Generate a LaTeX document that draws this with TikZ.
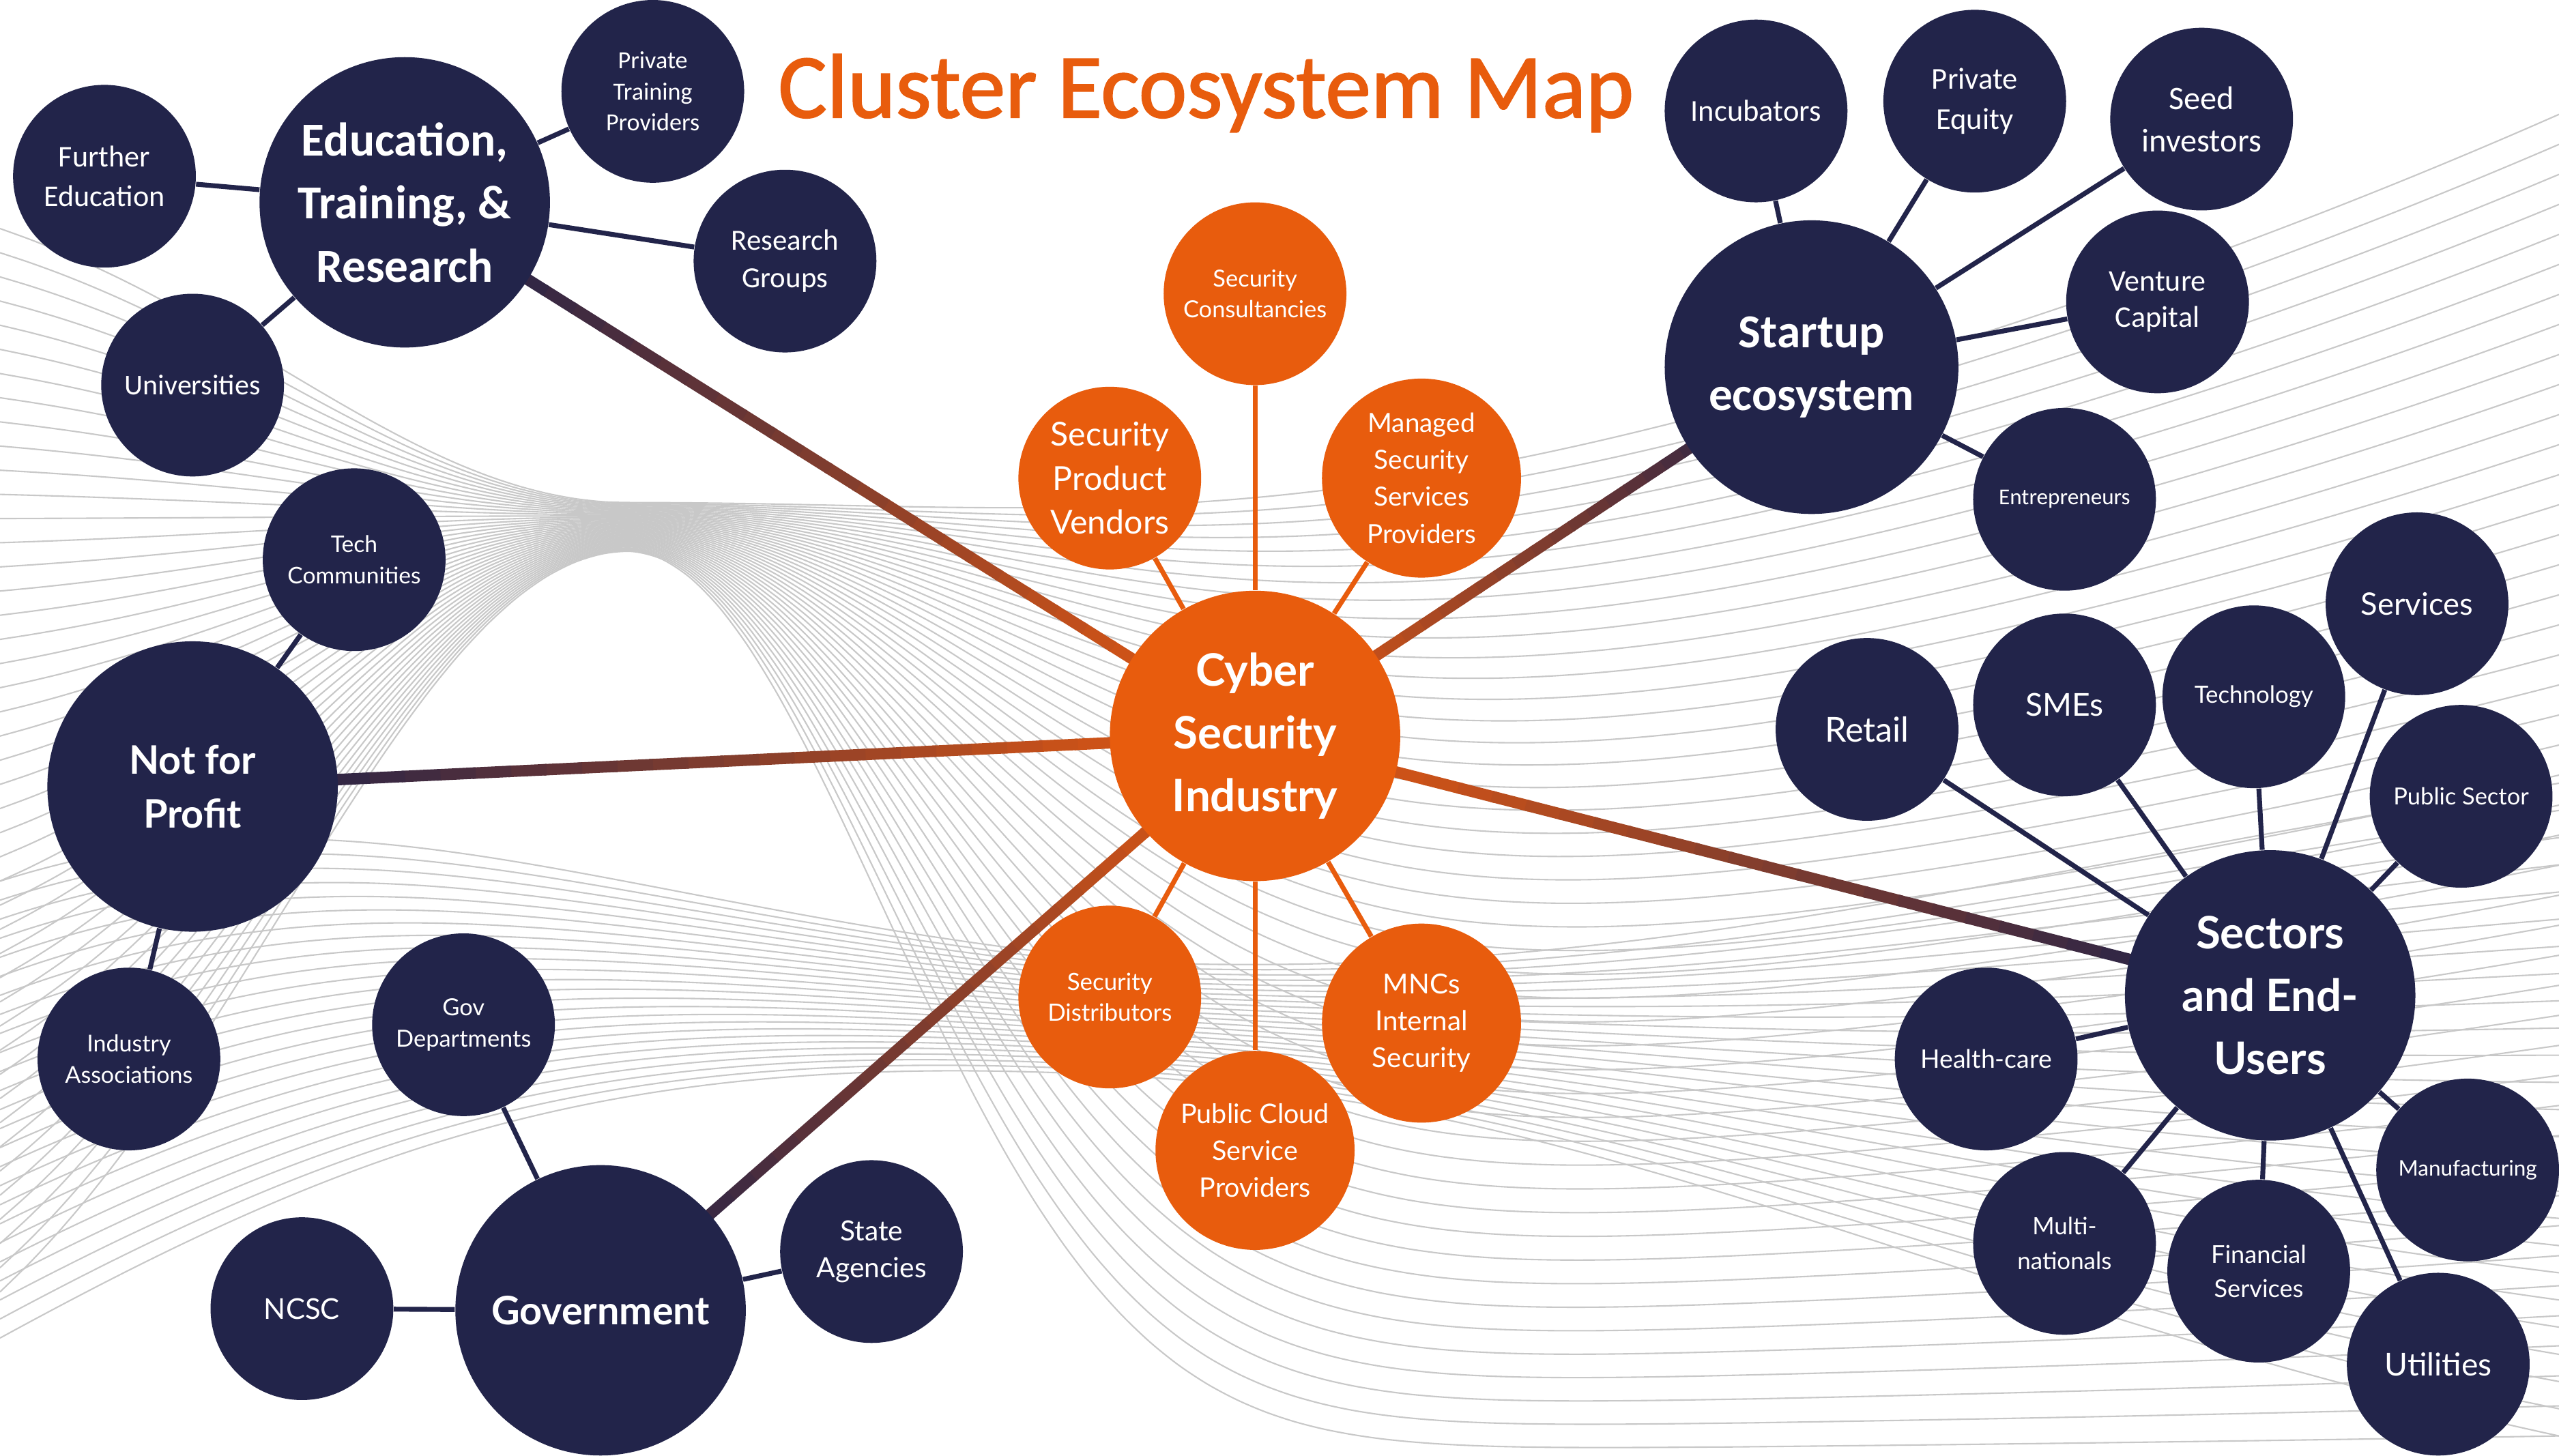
\documentclass[tikz,border=0pt]{standalone}
\usepackage{fontspec}
\setmainfont{Lato}
\newfontfamily\calfont{Carlito}
\newfontfamily\titlefont[FakeBold=1.5]{Carlito}
\usetikzlibrary{positioning}
\usetikzlibrary{calc}

\definecolor{navy}{HTML}{22244A}
\definecolor{flame}{HTML}{E85C0D}
\definecolor{rust}{HTML}{CC5218}
\definecolor{plum}{HTML}{302645}
\definecolor{wavegray}{HTML}{C8C8C8}

\newcommand\setfs[2]{\fontsize{#1}{#2}\selectfont}

\pgfdeclarelayer{waves}
\pgfdeclarelayer{links}
\pgfsetlayers{waves,links,main}

\begin{document}
\begin{tikzpicture}[x=0.02cm, y=-0.02cm,
    hub/.style={circle, fill=navy, text=white, minimum size=3.56cm, inner sep=0pt, align=center},
    leaf/.style={circle, fill=navy, text=white, minimum size=2.24cm, inner sep=0pt, align=center},
    core/.style={circle, fill=flame, text=white, minimum size=3.56cm, inner sep=0pt, align=center},
    petal/.style={circle, fill=flame, text=white, minimum size=2.24cm, inner sep=0pt, align=center},
    twig/.style={draw=navy, line width=1.7pt},
    stem/.style={draw=flame, line width=1.7pt},
    trunk/.style={line width=4pt},
    wave/.style={draw=wavegray, line width=0.5pt}]
    \useasboundingbox (0,0) rectangle (1568,892);

    % background waves
    \begin{pgfonlayer}{waves}
        \fill[white] (0,0) rectangle (1568,892);
        \clip (0,0) rectangle (1568,892);
        % bundle through the knot
        \foreach \i in {0,...,44}{
            \pgfmathsetmacro\t{\i/44}
            \pgfmathsetmacro\ky{308+30*\t}
            \pgfmathsetmacro\bl{100+800*\t}
            \pgfmathsetmacro\wl{300}
            \pgfmathsetmacro\bm{330+560*\t}
            \pgfmathsetmacro\br{70+810*\t}
            \pgfmathsetmacro\wr{420-200*\t}
            \draw[wave] plot[domain=0:1568, samples=90, smooth] (\x, {\x<385 ?
                \ky+(\bl-\ky)*(1-exp(-((385-\x)/\wl)*((385-\x)/\wl))) :
                \ky+(\bm+(\br-\bm)*((\x-385)/1183)*((\x-385)/1183)-\ky)*(1-exp(-((\x-385)/\wr)*((\x-385)/\wr)))});
        }
        % lower band
        \foreach \j in {0,...,24}{
            \pgfmathsetmacro\s{\j/24}
            \draw[wave] (0,540+280*\s) .. controls (220,470+230*\s) and (380,560+80*\s) .. (700,590+70*\s)
                .. controls (1000,600+80*\s) and (1200,540+260*\s) .. (1568,480+400*\s);
        }
    \end{pgfonlayer}

    \node[font=\titlefont\setfs{31.8}{36}, text=flame, anchor=base] (title) at (739,72) {Cluster Ecosystem Map};

    % core
    \node[core, font=\bfseries\setfs{15.6}{22}] (core) at (769,451) {Cyber\\Security\\Industry};
    \node[petal, font=\setfs{8.2}{10.8}] (consult) at (769,180) {Security\\Consultancies};
    \node[petal, font=\setfs{11.5}{15.4}] (vendors) at (680,293) {Security\\Product\\Vendors};
    \node[petal, minimum size=2.44cm, font=\setfs{9.2}{12.9}] (managed) at (871,293) {Managed\\Security\\Services\\Providers};
    \node[petal, font=\setfs{8.3}{10.8}] (distrib) at (680,611) {Security\\Distributors};
    \node[petal, minimum size=2.44cm, font=\setfs{9.4}{12.8}] (cloud) at (769,705) {Public Cloud\\Service\\Providers};
    \node[petal, minimum size=2.44cm, font=\setfs{9.6}{12.8}] (mncs) at (871,627) {MNCs\\Internal\\Security};

    % education
    \node[hub, font=\calfont\bfseries\setfs{16.5}{22}] (edu) at (248,124) {Education,\\Training, \&\\Research};
    \node[leaf, font=\calfont\setfs{10.5}{13.7}] (further) at (64,108) {Further\\Education};
    \node[leaf, font=\calfont\setfs{8.6}{10.8}] (privtrain) at (400,56) {Private\\Training\\Providers};
    \node[leaf, font=\calfont\setfs{10.2}{13}] (resgroups) at (481,160) {Research\\Groups};
    \node[leaf, font=\calfont\setfs{10}{13}] (unis) at (118,236) {Universities};

    % startups
    \node[hub, minimum size=3.6cm, font=\calfont\bfseries\setfs{16.5}{22}] (startup) at (1110,225) {Startup\\ecosystem};
    \node[leaf, font=\calfont\setfs{10.6}{13.7}] (incub) at (1076,68) {Incubators};
    \node[leaf, font=\calfont\setfs{10.6}{14.2}] (privequity) at (1210,62) {Private\\Equity};
    \node[leaf, font=\calfont\setfs{11.5}{14.8}] (seed) at (1349,73) {Seed\\investors};
    \node[leaf, font=\calfont\setfs{10.5}{12.5}] (venture) at (1322,185) {Venture\\Capital};
    \node[leaf, font=\calfont\setfs{7.9}{10}] (entre) at (1265,306) {Entrepreneurs};

    % not for profit
    \node[hub, font=\bfseries\setfs{13.7}{18.8}] (nfp) at (118,482) {Not for\\Profit};
    \node[leaf, font=\setfs{8}{10.8}] (techcom) at (217,343) {Tech\\Communities};
    \node[leaf, font=\setfs{8.1}{10.8}] (indassoc) at (79,649) {Industry\\Associations};

    % government
    \node[hub, font=\bfseries\setfs{13.7}{18.8}] (gov) at (368,803) {Government};
    \node[leaf, font=\setfs{10}{13}] (ncsc) at (185,802) {NCSC};
    \node[leaf, font=\setfs{8.2}{10.8}] (govdept) at (284,628) {Gov\\Departments};
    \node[leaf, font=\setfs{9.7}{13}] (stateag) at (534,767) {State\\Agencies};

    % sectors
    \node[hub, font=\bfseries\setfs{15.6}{21.9}] (sectors) at (1391,610) {Sectors\\and End-\\Users};
    \node[leaf, font=\setfs{12}{14}] (retail) at (1144,447) {Retail};
    \node[leaf, font=\setfs{11}{14}] (smes) at (1265,432) {SMEs};
    \node[leaf, font=\setfs{8.3}{11}] (tech) at (1381,427) {Technology};
    \node[leaf, font=\setfs{10.8}{13}] (services) at (1481,370) {Services};
    \node[leaf, font=\setfs{8.2}{11}] (pubsector) at (1508,488) {Public Sector};
    \node[leaf, font=\setfs{8.9}{11}] (health) at (1217,649) {Health-care};
    \node[leaf, font=\setfs{8.3}{12}] (multi) at (1265,762) {Multi-\\nationals};
    \node[leaf, font=\setfs{8.6}{12}] (finance) at (1384,779) {Financial\\Services};
    \node[leaf, font=\setfs{11}{14}] (utilities) at (1494,836) {Utilities};
    \node[leaf, font=\setfs{7.5}{10}] (manuf) at (1512,717) {Manufacturing};

    \begin{pgfonlayer}{links}
        % trunks from the core
        \foreach \hubname in {edu,startup,nfp,gov,sectors}{
            \foreach \k in {0,...,29}{
                \pgfmathsetmacro\ta{\k/30}
                \pgfmathsetmacro\tb{(\k+1.1)/30}
                \pgfmathtruncatemacro\mix{max(0,min(100,100*(0.85-\ta)/0.7))}
                \draw[trunk, draw=rust!\mix!plum] ($(core)!\ta!(\hubname)$) -- ($(core)!\tb!(\hubname)$);
            }
        }
        \foreach \p in {consult,vendors,managed,distrib,cloud,mncs}
            \draw[stem] (core) -- (\p);
        \foreach \l in {further,privtrain,resgroups,unis}
            \draw[twig] (edu) -- (\l);
        \foreach \l in {incub,privequity,seed,venture,entre}
            \draw[twig] (startup) -- (\l);
        \foreach \l in {techcom,indassoc}
            \draw[twig] (nfp) -- (\l);
        \foreach \l in {ncsc,govdept,stateag}
            \draw[twig] (gov) -- (\l);
        \foreach \l in {retail,smes,tech,services,pubsector,health,multi,finance,utilities,manuf}
            \draw[twig] (sectors) -- (\l);
    \end{pgfonlayer}
\end{tikzpicture}
\end{document}
